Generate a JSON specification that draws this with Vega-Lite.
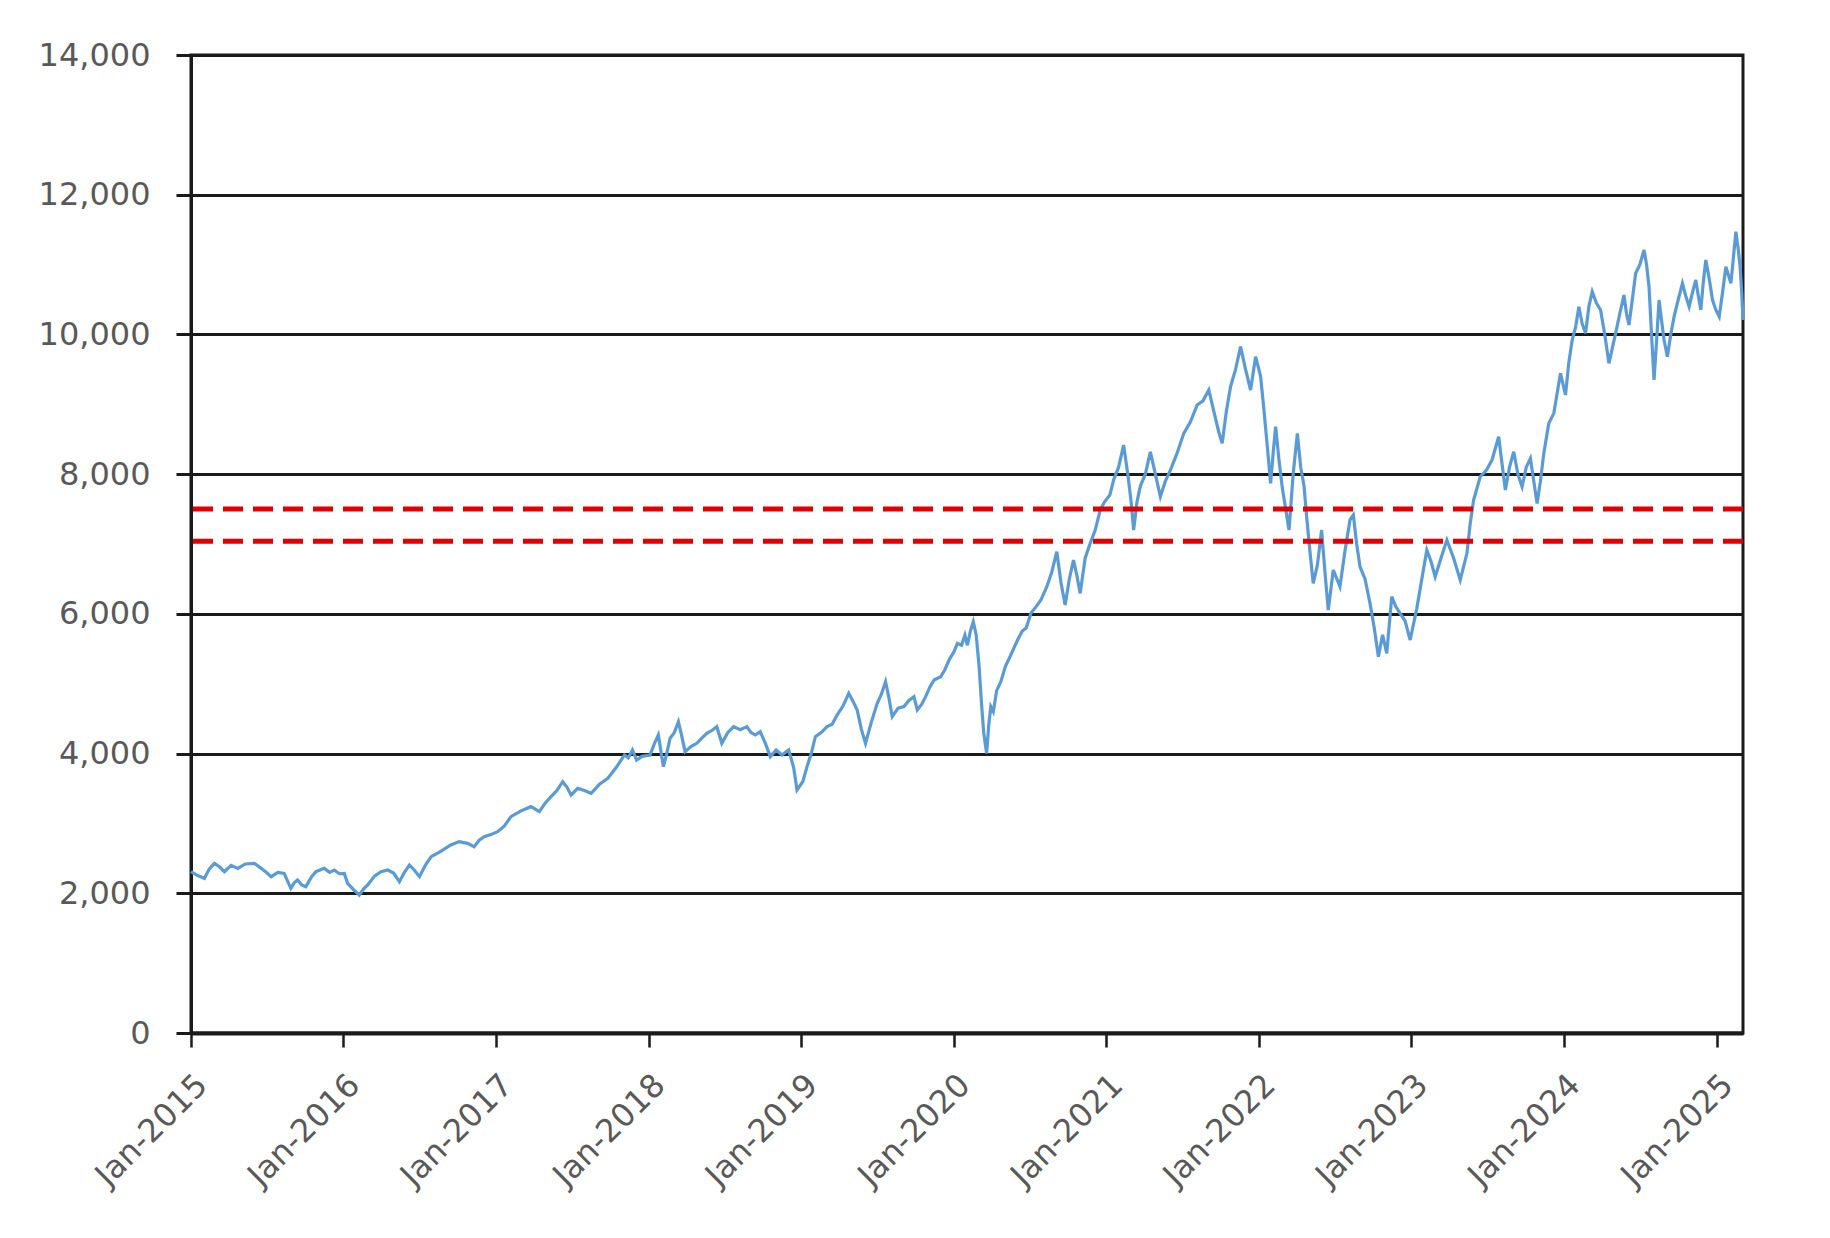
{
  "$schema": "https://vega.github.io/schema/vega-lite/v6.json",
  "width": 1552,
  "height": 978,
  "autosize": {"type": "none"},
  "padding": {"left": 191, "top": 55, "right": 87, "bottom": 205},
  "background": "white",
  "config": {
    "view": {"stroke": "#1a1a1a", "strokeWidth": 3},
    "font": "DejaVu Sans"
  },
  "datasets": {
    "s": [
      {"d":"2015-01-01","v":2309},{"d":"2015-01-15","v":2260},{"d":"2015-02-02","v":2214},{"d":"2015-02-14","v":2350},{"d":"2015-02-26","v":2429},{"d":"2015-03-10","v":2380},{"d":"2015-03-22","v":2309},{"d":"2015-04-07","v":2400},{"d":"2015-04-23","v":2357},{"d":"2015-05-11","v":2420},{"d":"2015-06-02","v":2429},{"d":"2015-06-18","v":2357},{"d":"2015-06-30","v":2300},{"d":"2015-07-12","v":2238},{"d":"2015-07-28","v":2300},{"d":"2015-08-12","v":2285},{"d":"2015-08-28","v":2071},{"d":"2015-09-05","v":2150},{"d":"2015-09-13","v":2190},{"d":"2015-09-23","v":2120},{"d":"2015-10-03","v":2095},{"d":"2015-10-16","v":2230},{"d":"2015-10-27","v":2309},{"d":"2015-11-16","v":2357},{"d":"2015-11-29","v":2300},{"d":"2015-12-10","v":2333},{"d":"2015-12-22","v":2280},
      {"d":"2016-01-03","v":2285},{"d":"2016-01-11","v":2142},{"d":"2016-01-24","v":2060},{"d":"2016-02-08","v":1975},{"d":"2016-02-18","v":2060},{"d":"2016-02-28","v":2119},{"d":"2016-03-16","v":2250},{"d":"2016-03-31","v":2309},{"d":"2016-04-16","v":2333},{"d":"2016-04-30","v":2290},{"d":"2016-05-14","v":2166},{"d":"2016-05-26","v":2300},{"d":"2016-06-07","v":2405},{"d":"2016-06-19","v":2330},{"d":"2016-07-01","v":2238},{"d":"2016-07-15","v":2400},{"d":"2016-07-29","v":2524},{"d":"2016-08-21","v":2600},{"d":"2016-09-14","v":2691},{"d":"2016-10-04","v":2740},{"d":"2016-10-24","v":2715},{"d":"2016-11-09","v":2667},{"d":"2016-11-21","v":2760},{"d":"2016-12-03","v":2810},{"d":"2016-12-19","v":2840},
      {"d":"2017-01-04","v":2882},{"d":"2017-01-20","v":2960},{"d":"2017-02-05","v":3097},{"d":"2017-03-01","v":3180},{"d":"2017-03-25","v":3240},{"d":"2017-04-14","v":3168},{"d":"2017-04-28","v":3290},{"d":"2017-05-12","v":3383},{"d":"2017-05-26","v":3470},{"d":"2017-06-09","v":3598},{"d":"2017-06-19","v":3520},{"d":"2017-06-29","v":3407},{"d":"2017-07-15","v":3502},{"d":"2017-07-31","v":3470},{"d":"2017-08-16","v":3431},{"d":"2017-09-05","v":3560},{"d":"2017-09-25","v":3646},{"d":"2017-10-15","v":3800},{"d":"2017-11-04","v":3980},{"d":"2017-11-13","v":3940},{"d":"2017-11-23","v":4051},{"d":"2017-12-03","v":3908},{"d":"2017-12-16","v":3960},
      {"d":"2018-01-04","v":3980},{"d":"2018-01-15","v":4150},{"d":"2018-01-24","v":4266},{"d":"2018-02-05","v":3813},{"d":"2018-02-13","v":4000},{"d":"2018-02-21","v":4218},{"d":"2018-03-03","v":4300},{"d":"2018-03-13","v":4457},{"d":"2018-03-21","v":4250},{"d":"2018-03-29","v":4027},{"d":"2018-04-12","v":4100},{"d":"2018-04-26","v":4147},{"d":"2018-05-08","v":4220},{"d":"2018-05-20","v":4289},{"d":"2018-06-01","v":4330},{"d":"2018-06-13","v":4385},{"d":"2018-06-25","v":4147},{"d":"2018-07-09","v":4300},{"d":"2018-07-23","v":4385},{"d":"2018-08-08","v":4340},{"d":"2018-08-24","v":4385},{"d":"2018-09-03","v":4300},{"d":"2018-09-13","v":4266},{"d":"2018-09-25","v":4313},{"d":"2018-10-07","v":4150},{"d":"2018-10-19","v":3956},{"d":"2018-11-02","v":4050},{"d":"2018-11-16","v":3980},{"d":"2018-12-02","v":4051},{"d":"2018-12-14","v":3800},{"d":"2018-12-22","v":3478},
      {"d":"2019-01-05","v":3600},{"d":"2019-01-15","v":3813},{"d":"2019-01-25","v":4000},{"d":"2019-02-04","v":4242},{"d":"2019-02-18","v":4300},{"d":"2019-03-04","v":4385},{"d":"2019-03-16","v":4420},{"d":"2019-03-28","v":4552},{"d":"2019-04-11","v":4680},{"d":"2019-04-25","v":4862},{"d":"2019-05-05","v":4750},{"d":"2019-05-15","v":4624},{"d":"2019-05-25","v":4350},{"d":"2019-06-04","v":4147},{"d":"2019-06-18","v":4450},{"d":"2019-07-02","v":4719},{"d":"2019-07-12","v":4850},{"d":"2019-07-22","v":5029},{"d":"2019-07-30","v":4800},{"d":"2019-08-07","v":4528},{"d":"2019-08-21","v":4650},{"d":"2019-09-04","v":4672},{"d":"2019-09-16","v":4760},{"d":"2019-09-28","v":4815},{"d":"2019-10-06","v":4624},{"d":"2019-10-16","v":4700},{"d":"2019-10-26","v":4815},{"d":"2019-11-05","v":4950},{"d":"2019-11-15","v":5053},{"d":"2019-12-01","v":5100},{"d":"2019-12-11","v":5200},{"d":"2019-12-21","v":5339},
      {"d":"2020-01-02","v":5459},{"d":"2020-01-10","v":5578},{"d":"2020-01-20","v":5550},{"d":"2020-01-28","v":5697},{"d":"2020-02-03","v":5550},{"d":"2020-02-10","v":5750},{"d":"2020-02-17","v":5888},{"d":"2020-02-24","v":5700},{"d":"2020-03-02","v":5244},{"d":"2020-03-08","v":4700},{"d":"2020-03-13","v":4300},{"d":"2020-03-20","v":4000},{"d":"2020-03-25","v":4400},{"d":"2020-03-30","v":4672},{"d":"2020-04-05","v":4600},{"d":"2020-04-13","v":4900},{"d":"2020-04-23","v":5029},{"d":"2020-05-04","v":5250},{"d":"2020-05-16","v":5400},{"d":"2020-06-02","v":5626},{"d":"2020-06-13","v":5750},{"d":"2020-06-23","v":5800},{"d":"2020-07-04","v":6007},{"d":"2020-07-16","v":6100},{"d":"2020-07-28","v":6198},{"d":"2020-08-11","v":6389},{"d":"2020-08-23","v":6600},{"d":"2020-09-04","v":6890},{"d":"2020-09-14","v":6450},{"d":"2020-09-24","v":6126},{"d":"2020-10-04","v":6500},{"d":"2020-10-14","v":6770},{"d":"2020-10-22","v":6550},{"d":"2020-10-30","v":6293},{"d":"2020-11-11","v":6800},{"d":"2020-11-23","v":7010},{"d":"2020-12-05","v":7200},{"d":"2020-12-17","v":7487},{"d":"2020-12-27","v":7600},
      {"d":"2021-01-09","v":7700},{"d":"2021-01-18","v":7916},{"d":"2021-01-30","v":8100},{"d":"2021-02-11","v":8417},{"d":"2021-02-21","v":8000},{"d":"2021-03-01","v":7600},{"d":"2021-03-07","v":7200},{"d":"2021-03-15","v":7600},{"d":"2021-03-23","v":7829},{"d":"2021-04-04","v":8000},{"d":"2021-04-16","v":8320},{"d":"2021-04-28","v":8000},{"d":"2021-05-10","v":7677},{"d":"2021-05-22","v":7900},{"d":"2021-06-03","v":8057},{"d":"2021-06-19","v":8300},{"d":"2021-07-05","v":8584},{"d":"2021-07-21","v":8750},{"d":"2021-08-06","v":8990},{"d":"2021-08-20","v":9050},{"d":"2021-09-03","v":9204},{"d":"2021-09-15","v":8900},{"d":"2021-09-27","v":8600},{"d":"2021-10-05","v":8440},{"d":"2021-10-15","v":8900},{"d":"2021-10-25","v":9252},{"d":"2021-11-06","v":9500},{"d":"2021-11-18","v":9825},{"d":"2021-11-30","v":9500},{"d":"2021-12-12","v":9204},{"d":"2021-12-24","v":9682},
      {"d":"2022-01-05","v":9400},{"d":"2022-01-13","v":8918},{"d":"2022-01-21","v":8400},{"d":"2022-01-29","v":7868},{"d":"2022-02-04","v":8300},{"d":"2022-02-10","v":8680},{"d":"2022-02-18","v":8200},{"d":"2022-02-26","v":7800},{"d":"2022-03-06","v":7500},{"d":"2022-03-14","v":7200},{"d":"2022-03-24","v":8000},{"d":"2022-04-03","v":8584},{"d":"2022-04-11","v":8100},{"d":"2022-04-19","v":7829},{"d":"2022-04-25","v":7406},{"d":"2022-05-03","v":6900},{"d":"2022-05-11","v":6437},{"d":"2022-05-21","v":6700},{"d":"2022-05-31","v":7200},{"d":"2022-06-08","v":6600},{"d":"2022-06-16","v":6055},{"d":"2022-06-28","v":6628},{"d":"2022-07-14","v":6389},{"d":"2022-07-26","v":6900},{"d":"2022-08-07","v":7344},{"d":"2022-08-15","v":7415},{"d":"2022-08-23","v":7000},{"d":"2022-08-31","v":6675},{"d":"2022-09-12","v":6500},{"d":"2022-09-24","v":6150},{"d":"2022-10-04","v":5800},{"d":"2022-10-14","v":5387},{"d":"2022-10-24","v":5700},{"d":"2022-11-03","v":5435},{"d":"2022-11-15","v":6246},{"d":"2022-11-25","v":6100},{"d":"2022-12-05","v":6007},{"d":"2022-12-17","v":5900},{"d":"2022-12-29","v":5626},
      {"d":"2023-01-14","v":6079},{"d":"2023-01-26","v":6500},{"d":"2023-02-07","v":6914},{"d":"2023-02-17","v":6750},{"d":"2023-02-27","v":6532},{"d":"2023-03-13","v":6800},{"d":"2023-03-27","v":7057},{"d":"2023-04-12","v":6800},{"d":"2023-04-28","v":6485},{"d":"2023-05-14","v":6867},{"d":"2023-05-22","v":7300},{"d":"2023-05-30","v":7630},{"d":"2023-06-15","v":7964},{"d":"2023-06-29","v":8050},{"d":"2023-07-13","v":8202},{"d":"2023-07-29","v":8536},{"d":"2023-08-06","v":8150},{"d":"2023-08-14","v":7772},{"d":"2023-08-24","v":8100},{"d":"2023-09-03","v":8321},{"d":"2023-09-13","v":8000},{"d":"2023-09-23","v":7821},{"d":"2023-10-03","v":8100},{"d":"2023-10-13","v":8225},{"d":"2023-10-21","v":7900},{"d":"2023-10-29","v":7581},{"d":"2023-11-06","v":7900},{"d":"2023-11-14","v":8297},{"d":"2023-11-26","v":8727},{"d":"2023-12-08","v":8870},{"d":"2023-12-24","v":9443},
      {"d":"2024-01-05","v":9133},{"d":"2024-01-13","v":9600},{"d":"2024-01-21","v":9920},{"d":"2024-01-29","v":10100},{"d":"2024-02-06","v":10397},{"d":"2024-02-14","v":10150},{"d":"2024-02-22","v":10016},{"d":"2024-03-01","v":10400},{"d":"2024-03-09","v":10612},{"d":"2024-03-19","v":10450},{"d":"2024-03-29","v":10350},{"d":"2024-04-08","v":10000},{"d":"2024-04-18","v":9586},{"d":"2024-04-26","v":9800},{"d":"2024-05-04","v":10016},{"d":"2024-05-14","v":10300},{"d":"2024-05-24","v":10564},{"d":"2024-05-30","v":10300},{"d":"2024-06-05","v":10135},{"d":"2024-06-13","v":10500},{"d":"2024-06-21","v":10875},{"d":"2024-07-01","v":11000},{"d":"2024-07-11","v":11209},{"d":"2024-07-17","v":11000},{"d":"2024-07-23","v":10683},{"d":"2024-07-29","v":10000},{"d":"2024-08-04","v":9348},{"d":"2024-08-10","v":9900},{"d":"2024-08-16","v":10492},{"d":"2024-08-22","v":10200},{"d":"2024-08-28","v":9920},{"d":"2024-09-05","v":9681},{"d":"2024-09-13","v":10000},{"d":"2024-09-21","v":10255},{"d":"2024-10-01","v":10500},{"d":"2024-10-11","v":10731},{"d":"2024-10-19","v":10550},{"d":"2024-10-27","v":10397},{"d":"2024-11-04","v":10600},{"d":"2024-11-12","v":10779},{"d":"2024-11-18","v":10550},{"d":"2024-11-24","v":10350},{"d":"2024-11-30","v":10750},{"d":"2024-12-06","v":11065},{"d":"2024-12-14","v":10800},{"d":"2024-12-22","v":10492},{"d":"2024-12-30","v":10350},
      {"d":"2025-01-07","v":10255},{"d":"2025-01-15","v":10600},{"d":"2025-01-23","v":10969},{"d":"2025-01-29","v":10850},{"d":"2025-02-04","v":10731},{"d":"2025-02-10","v":11100},{"d":"2025-02-16","v":11471},{"d":"2025-02-22","v":11200},{"d":"2025-02-26","v":10969},{"d":"2025-03-02","v":10600},{"d":"2025-03-05","v":10207}
    ],
    "lv": [{"level": 7500}, {"level": 7040}]
  },
  "layer": [
    {
      "data": {"name": "s"},
      "mark": {"type": "line", "color": "#5B9BD5", "strokeWidth": 3.2},
      "encoding": {
        "x": {
          "field": "d", "type": "temporal", "title": null,
          "scale": {"domain": [{"year": 2015, "month": 1, "date": 1}, {"year": 2025, "month": 3, "date": 5}], "nice": false},
          "axis": {
            "values": [
              {"year": 2015, "month": 1, "date": 1}, {"year": 2016, "month": 1, "date": 1}, {"year": 2017, "month": 1, "date": 1},
              {"year": 2018, "month": 1, "date": 1}, {"year": 2019, "month": 1, "date": 1}, {"year": 2020, "month": 1, "date": 1},
              {"year": 2021, "month": 1, "date": 1}, {"year": 2022, "month": 1, "date": 1}, {"year": 2023, "month": 1, "date": 1},
              {"year": 2024, "month": 1, "date": 1}, {"year": 2025, "month": 1, "date": 1}
            ],
            "format": "%b-%Y", "labelAngle": -45, "labelFontSize": 32, "labelColor": "#595959",
            "labelFont": "DejaVu Sans", "labelPadding": 22, "labelOverlap": false, "labelFlush": false,
            "tickSize": 14, "tickColor": "#1a1a1a", "tickWidth": 2.5,
            "domainColor": "#1a1a1a", "domainWidth": 4, "grid": false
          }
        },
        "y": {
          "field": "v", "type": "quantitative", "title": null,
          "scale": {"domain": [0, 14000], "nice": false},
          "axis": {
            "values": [0, 2000, 4000, 6000, 8000, 10000, 12000, 14000],
            "format": ",.0f", "labelFontSize": 32, "labelColor": "#595959", "labelFont": "DejaVu Sans",
            "labelPadding": 26, "tickSize": 15, "tickColor": "#1a1a1a", "tickWidth": 3,
            "domainColor": "#1a1a1a", "domainWidth": 3,
            "grid": true, "gridColor": "#1a1a1a", "gridWidth": 3, "gridOpacity": 1
          }
        }
      }
    },
    {
      "data": {"name": "lv"},
      "mark": {"type": "rule", "color": "#E00000", "strokeWidth": 5, "strokeDash": [20, 10]},
      "encoding": {"y": {"field": "level", "type": "quantitative"}}
    }
  ]
}
